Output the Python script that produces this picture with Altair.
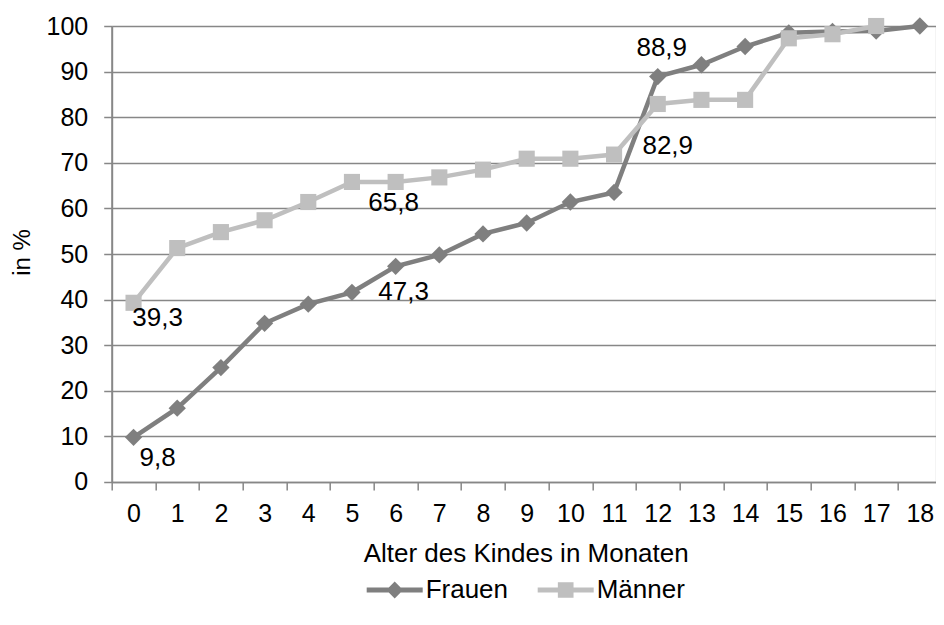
import altair as alt
import pandas as pd

# ---- data ----
months = list(range(19))
frauen = [9.8, 16.2, 25.1, 34.8, 39.0, 41.6, 47.3, 49.8, 54.4, 56.8, 61.4, 63.5,
          88.9, 91.5, 95.5, 98.5, 98.8, 98.9, 100.0]
maenner = [39.3, 51.3, 54.8, 57.4, 61.4, 65.8, 65.8, 66.8, 68.5, 70.9, 70.9, 71.8,
           82.9, 83.8, 83.8, 97.3, 98.2, 100.0, None]
groups = ["Frauen", "Männer"]
group_colors = ["#7f7f7f", "#bfbfbf"]
labelled = [("Frauen", 0), ("Männer", 0), ("Frauen", 6), ("Männer", 6),
            ("Frauen", 12), ("Männer", 12)]

rows = []
for g, vals in zip(groups, [frauen, maenner]):
    for m, v in zip(months, vals):
        if v is not None:
            rows.append({"Monat": m, "Wert": v, "Gruppe": g,
                         "Label": f"{v:.1f}".replace(".", ",")})
df = pd.DataFrame(rows)

FONT = "Liberation Sans"
AX = "#878787"

# label offsets (style)
label_offsets = {("Frauen", 0): (24, 21), ("Männer", 0): (24, 15),
                 ("Frauen", 6): (8, 26), ("Männer", 6): (-2, 21),
                 ("Frauen", 12): (4, -29), ("Männer", 12): (10, 42)}

x_enc = alt.X("Monat:O",
              scale=alt.Scale(type="band", paddingInner=0, paddingOuter=0,
                              range=[0, 830]),
              title="Alter des Kindes in Monaten",
              axis=alt.Axis(tickBand="extent", labelAngle=0, labelFontSize=25,
                            labelFont=FONT, labelColor="black", labelPadding=12,
                            tickSize=8, tickColor=AX, tickWidth=1.5,
                            domainColor=AX, domainWidth=1.5, grid=False,
                            titleFontSize=26, titleFont=FONT, titleColor="black",
                            titleFontWeight="normal", titleBaseline="top",
                            titleX=414, titleY=59))
y_enc = alt.Y("Wert:Q",
              scale=alt.Scale(domain=[0, 100], nice=False),
              title="in %",
              axis=alt.Axis(values=list(range(0, 101, 10)), labelFontSize=25,
                            labelFont=FONT, labelColor="black", labelPadding=16,
                            tickSize=8, tickColor=AX, tickWidth=1.5,
                            domainColor=AX, domainWidth=2, grid=True,
                            gridColor=AX, gridWidth=1.5,
                            titleFontSize=24, titleFont=FONT, titleColor="black",
                            titleFontWeight="normal", titleBaseline="alphabetic",
                            titleX=-82, titleY=226, titleAngle=-90))

path_f = "M-1,-0.09L1,-0.09L1,0.09L-1,0.09Z M-0.3,0L0,-0.3L0.3,0L0,0.3Z"
path_m = "M-1,-0.09L1,-0.09L1,0.09L-1,0.09Z M-0.28,-0.28L0.28,-0.28L0.28,0.28L-0.28,0.28Z"

color_scale = alt.Scale(domain=groups, range=group_colors)
legend_spec = alt.Legend(
    title=None, orient="none", legendX=255, legendY=536,
    direction="horizontal", labelFontSize=26, labelFont=FONT,
    labelColor="black", symbolSize=3136, labelOffset=3, columnPadding=29,
    symbolStrokeWidth=0, symbolOpacity=1)
color_enc = alt.Color("Gruppe:N", scale=color_scale, legend=legend_spec)

base = alt.Chart(df).encode(x=x_enc, y=y_enc)

layers = []
for g, shape, size in [("Frauen", "diamond", 300), ("Männer", "square", 260)]:
    sub = base.transform_filter(alt.datum.Gruppe == g)
    layers.append(sub.mark_line(strokeWidth=4.5).encode(color=color_enc))
    layers.append(sub.mark_point(shape=shape, filled=True, size=size, opacity=1)
                  .encode(color=color_enc))

# legend-only layer (draws no marks, gives the legend its line+marker symbols)
layers.append(
    base.transform_filter("false")
    .mark_point(filled=True, opacity=1)
    .encode(color=color_enc,
            shape=alt.Shape("Gruppe:N",
                            scale=alt.Scale(domain=groups, range=[path_f, path_m]),
                            legend=legend_spec)))

for (g, m) in labelled:
    dx, dy = label_offsets[(g, m)]
    layers.append(
        base.transform_filter((alt.datum.Gruppe == g) & (alt.datum.Monat == m))
        .mark_text(dx=dx, dy=dy, fontSize=26, font=FONT, color="black",
                   baseline="middle", align="center")
        .encode(text="Label:N"))

chart = alt.layer(*layers).properties(
    width=824, height=456,
    autosize=alt.AutoSizeParams(type="none"),
    padding={"left": 103.7, "top": 18, "right": 0, "bottom": 122},
).configure_view(stroke=None).configure(background="white")

chart.save("out.html", embed_options={"renderer": "svg", "actions": False})
